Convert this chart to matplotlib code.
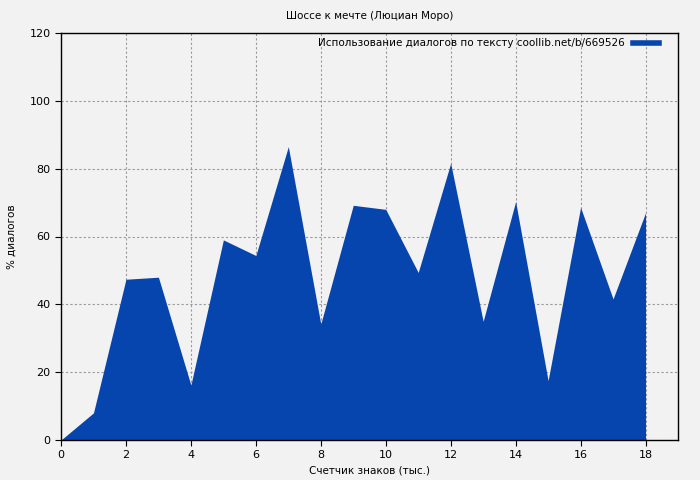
import matplotlib
matplotlib.use("Agg")
import matplotlib.pyplot as plt

x_vals = list(range(19))
y_vals = [0, 8, 47.4, 48.0, 16.2, 59.0, 54.4, 86.5, 34.2, 69.2, 68.0, 49.4,
          81.6, 35.0, 70.3, 17.5, 68.6, 41.6, 67.0]

title = "Шоссе к мечте (Люциан Моро)"
xlabel = "Счетчик знаков (тыс.)"
ylabel = "% диалогов"
legend_label = "Использование диалогов по тексту coollib.net/b/669526"
xticks = list(range(0, 19, 2))
yticks = list(range(0, 121, 20))

bg = "#f2f2f2"
blue = "#0645ad"

plt.rcParams['font.family'] = ['DejaVu Sans']
fig = plt.figure(figsize=(7, 4.8), dpi=100, facecolor=bg)
ax = fig.add_axes([61/700, 1-440/480, (678-61)/700, (440-33)/480])
ax.set_facecolor(bg)

ax.fill_between(x_vals, y_vals, 0, color=blue, linewidth=0, zorder=2)
ax.plot([], [], color=blue, linewidth=4, label=legend_label)

ax.set_xlim(0, 19)
ax.set_ylim(0, 120)
ax.set_xticks(xticks)
ax.set_yticks(yticks)
ax.tick_params(labelsize=8, direction='out', length=4)
ax.grid(True, color='#999999', linestyle=(0, (2, 2)), linewidth=0.8, zorder=1)
ax.set_axisbelow(True)
for s in ax.spines.values():
    s.set_linewidth(1)
    s.set_zorder(3)

ax.set_title(title, fontsize=7.5, pad=10)
ax.set_xlabel(xlabel, fontsize=7.5, labelpad=4)
ax.set_ylabel(ylabel, fontsize=7.5, labelpad=9)

leg = ax.legend(loc='upper right', fontsize=7.5, frameon=False, markerfirst=False,
                handlelength=2.5, borderaxespad=0.3,
                bbox_to_anchor=(1 - 12/617, 1 + 2/407))

fig.savefig("out.png", dpi=100, facecolor=bg)
